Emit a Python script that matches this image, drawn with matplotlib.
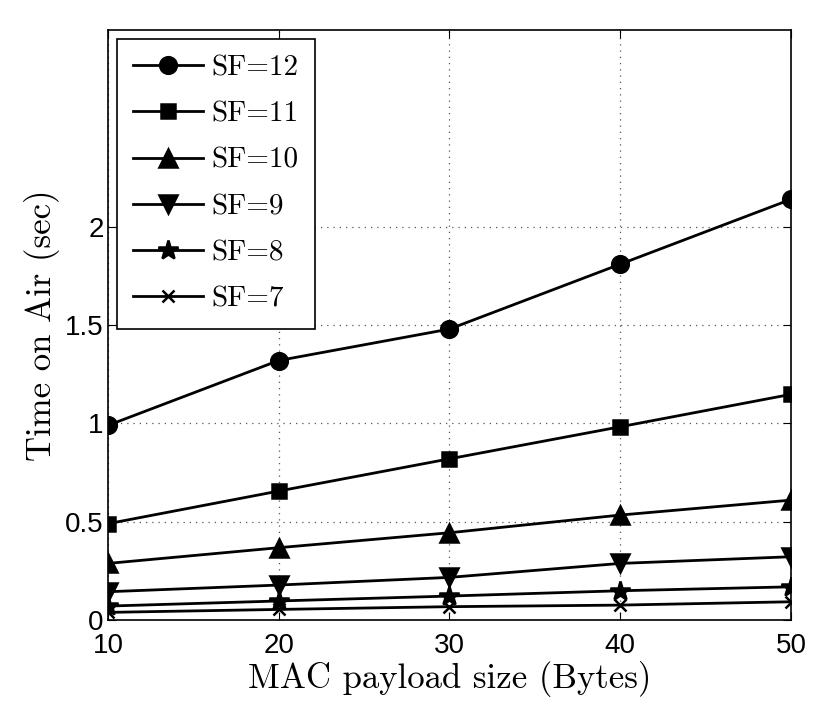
import matplotlib
matplotlib.use("Agg")
import matplotlib.pyplot as plt

plt.rcParams['font.family'] = ['Liberation Sans', 'DejaVu Sans']

payload = [10, 20, 30, 40, 50]
sf12 = [0.99, 1.32, 1.48, 1.81, 2.14]
sf11 = [0.49, 0.656, 0.82, 0.983, 1.148]
sf10 = [0.288, 0.368, 0.444, 0.534, 0.61]
sf9 = [0.144, 0.178, 0.217, 0.288, 0.322]
sf8 = [0.071, 0.097, 0.122, 0.149, 0.169]
sf7 = [0.039, 0.054, 0.068, 0.076, 0.093]

series = [
    (sf12, 'o', 12, 'SF=12'),
    (sf11, 's', 9.5, 'SF=11'),
    (sf10, '^', 12.5, 'SF=10'),
    (sf9, 'v', 12.5, 'SF=9'),
    (sf8, '*', 15, 'SF=8'),
    (sf7, 'x', 9, 'SF=7'),
]

fig = plt.figure(figsize=(8.3, 7.03), dpi=100)
ax = fig.add_axes([0.130, 0.118, 0.823, 0.839])

for vals, mk, ms, lab in series:
    ax.plot(payload, vals, '-', color='black', marker=mk, markersize=ms,
            linewidth=2.0, markeredgewidth=1.8, label=lab)

ax.set_xlim(10, 50)
ax.set_ylim(0, 3)
ax.set_xticks([10, 20, 30, 40, 50])
ax.set_yticks([0, 0.5, 1, 1.5, 2])
ax.set_yticklabels(['0', '0.5', '1', '1.5', '2'])
ax.tick_params(direction='in', top=True, right=True, labelsize=20, length=6)
ax.tick_params(axis='x', pad=9)
ax.tick_params(axis='y', pad=3)
ax.grid(True, linestyle=(0, (1, 4)), color='#555555', linewidth=0.9)
for sp in ax.spines.values():
    sp.set_linewidth(1.2)

ax.set_xlabel('MAC payload size (Bytes)', fontfamily='cmr10', fontsize=25, labelpad=2)
ax.set_ylabel('Time on Air (sec)', fontfamily='cmr10', fontsize=25, labelpad=4)

leg = ax.legend(loc='upper left', prop={'family': 'cmr10', 'size': 21},
                fancybox=False, framealpha=1, edgecolor='black',
                handlelength=2.4, labelspacing=0.68, borderpad=0.55,
                borderaxespad=0.3, handletextpad=0.3)
leg.get_frame().set_linewidth(1.2)

fig.savefig('out.png', dpi=100)
